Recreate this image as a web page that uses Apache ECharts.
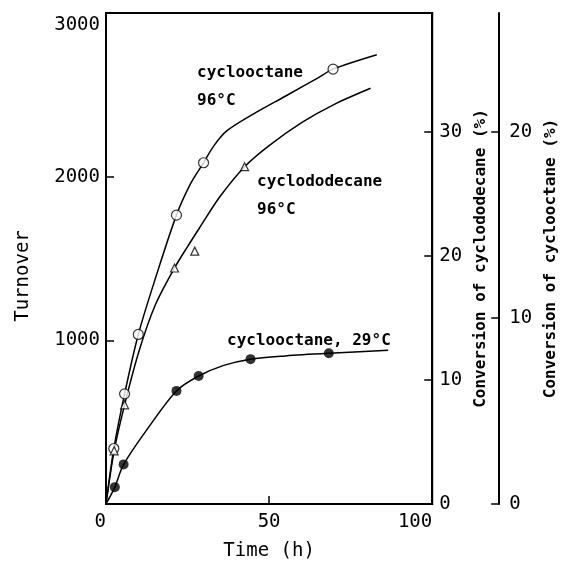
<!DOCTYPE html>
<html>
<head>
<meta charset="utf-8">
<script src="https://cdn.jsdelivr.net/npm/echarts@6/dist/echarts.min.js"></script>
<style>
  html, body { margin: 0; padding: 0; background: #fff; }
  #main { width: 567px; height: 566px; }
</style>
</head>
<body>
<div id="main"></div>
<script type="text/javascript">
// measured points (Time h, Turnover)
// open circles : cyclooctane 96°C
var octHotX = [2.4, 5.7, 9.9, 21.6, 29.9, 69.6];
var octHotY = [339, 673, 1036, 1765, 2085, 2657];
// open triangles : cyclododecane 96°C
var dodHotX = [2.5, 5.7, 21, 27.2, 42.5];
var dodHotY = [325, 606, 1442, 1545, 2061];
// filled circles : cyclooctane 29°C
var octColdX = [2.7, 5.4, 21.6, 28.4, 44.3, 68.3];
var octColdY = [103, 242, 691, 782, 885, 921];

// the hand drawn curves
var octHotCurveX = [0, 2.4, 5.7, 9.9, 15.2, 21.6, 26, 29.9, 33.1, 37.1, 45.1, 55.1, 65, 69.6, 83];
var octHotCurveY = [0, 339, 673, 1036, 1382, 1765, 1960, 2085, 2190, 2281, 2382, 2493, 2604, 2657, 2745];
var dodHotCurveX = [0, 2.5, 5.7, 10.2, 15.2, 21, 25.1, 28.6, 35, 42.5, 50, 60.2, 70, 81.1];
var dodHotCurveY = [0, 325, 606, 939, 1220, 1442, 1576, 1685, 1880, 2061, 2190, 2333, 2442, 2540];
var octColdCurveX = [0, 2.7, 5.4, 13.2, 21.6, 28.4, 36.1, 44.3, 55, 68.3, 86.5];
var octColdCurveY = [0, 103, 242, 473, 691, 782, 847, 885, 905, 921, 939];

// axes
var timeTicks = [0, 50, 100];
var turnoverTicks = [1000, 2000, 3000];
var dodConvMax = 39.6;   // cyclododecane conversion (%) at top of frame
var octConvMax = 26.4;   // cyclooctane conversion (%) at top of frame

function zip(xs, ys) {
  var res = [];
  for (var i = 0; i < xs.length; i++) {
    res.push([xs[i], ys[i]]);
  }
  return res;
}

var mono = 'DejaVu Sans Mono';
var black = '#000';
var labelFont = 'bold 16px DejaVu Sans Mono';

var myChart = echarts.init(document.getElementById('main'));
var option = {
  animation: false,
  backgroundColor: '#fff',
  grid: {
    left: 106, right: 127, top: 13, bottom: 58,
    show: true, borderColor: black, borderWidth: 2
  },
  xAxis: {
    type: 'value',
    min: timeTicks[0], max: timeTicks[2], interval: 50,
    axisLine: { lineStyle: { color: black, width: 2 } },
    axisTick: { inside: true, length: 8, lineStyle: { color: black, width: 1.5 } },
    splitLine: { show: false },
    axisLabel: {
      color: black, fontFamily: mono, fontSize: 19, margin: 9,
      alignMinLabel: 'right', alignMaxLabel: 'right'
    },
    name: 'Time (h)',
    nameLocation: 'middle',
    nameGap: 38,
    nameTextStyle: { color: black, fontFamily: mono, fontSize: 19 }
  },
  yAxis: [{
    type: 'value',
    min: 0, max: turnoverTicks[2], interval: 1000,
    axisLine: { lineStyle: { color: black, width: 2 } },
    axisTick: { inside: true, length: 8, lineStyle: { color: black, width: 1.5 } },
    splitLine: { show: false },
    axisLabel: {
      color: black, fontFamily: mono, fontSize: 19, margin: 6,
      formatter: function (v) {
        if (v === 0) return '';
        if (v === turnoverTicks[2]) return '{top|' + v + '}';
        return '' + v;
      },
      rich: { top: { fontFamily: mono, fontSize: 19, color: black, padding: [24, 0, 0, 0] } }
    }
  }, {
    type: 'value',
    position: 'right',
    min: 0, max: dodConvMax, interval: 10,
    axisLine: { show: true, lineStyle: { color: black, width: 2 } },
    axisTick: { show: true, inside: true, length: 8, lineStyle: { color: black, width: 1.5 } },
    splitLine: { show: false },
    axisLabel: { color: black, fontFamily: mono, fontSize: 19, margin: 7, showMaxLabel: false },
    name: 'Conversion of cyclododecane (%)',
    nameLocation: 'middle',
    nameRotate: 90,
    nameGap: 34,
    nameTextStyle: { color: black, fontFamily: mono, fontSize: 16, fontWeight: 'bold' }
  }, {
    type: 'value',
    position: 'right',
    offset: 67,
    min: 0, max: octConvMax, interval: 10,
    axisLine: { show: true, lineStyle: { color: black, width: 2 } },
    axisTick: { show: true, inside: true, length: 8, lineStyle: { color: black, width: 1.5 } },
    splitLine: { show: false },
    axisLabel: { color: black, fontFamily: mono, fontSize: 19, margin: 10, showMaxLabel: false },
    name: 'Conversion of cyclooctane (%)',
    nameLocation: 'middle',
    nameRotate: 90,
    nameGap: 38,
    nameTextStyle: { color: black, fontFamily: mono, fontSize: 16, fontWeight: 'bold' }
  }],
  graphic: [
    { type: 'text', x: 23, y: 276, rotation: Math.PI / 2,
      style: { text: 'Turnover', fill: black, font: '19px DejaVu Sans Mono', align: 'center', verticalAlign: 'middle' } },
    { type: 'text', x: 197, y: 73,
      style: { text: 'cyclooctane', fill: black, font: labelFont, verticalAlign: 'middle' } },
    { type: 'text', x: 197, y: 101,
      style: { text: '96°C', fill: black, font: labelFont, verticalAlign: 'middle' } },
    { type: 'text', x: 257, y: 182,
      style: { text: 'cyclododecane', fill: black, font: labelFont, verticalAlign: 'middle' } },
    { type: 'text', x: 257, y: 210,
      style: { text: '96°C', fill: black, font: labelFont, verticalAlign: 'middle' } },
    { type: 'text', x: 227, y: 341,
      style: { text: 'cyclooctane, 29°C', fill: black, font: labelFont, verticalAlign: 'middle' } }
  ],
  series: [
    { type: 'line', smooth: 0.3, symbol: 'none', data: zip(octHotCurveX, octHotCurveY),
      lineStyle: { color: black, width: 1.5 } },
    { type: 'line', smooth: 0.3, symbol: 'none', data: zip(dodHotCurveX, dodHotCurveY),
      lineStyle: { color: black, width: 1.5 } },
    { type: 'line', smooth: 0.3, symbol: 'none', data: zip(octColdCurveX, octColdCurveY),
      lineStyle: { color: black, width: 1.5 } },
    { type: 'scatter', z: 5, symbol: 'circle', symbolSize: 10, data: zip(octHotX, octHotY),
      itemStyle: { color: '#fff', borderColor: black, borderWidth: 1.2 } },
    { type: 'scatter', z: 5, symbol: 'triangle', symbolSize: 8, data: zip(dodHotX, dodHotY),
      itemStyle: { color: '#fff', borderColor: black, borderWidth: 1.2 } },
    { type: 'scatter', z: 5, symbol: 'circle', symbolSize: 10, data: zip(octColdX, octColdY),
      itemStyle: { color: black } }
  ]
};
myChart.setOption(option);
</script>
</body>
</html>
